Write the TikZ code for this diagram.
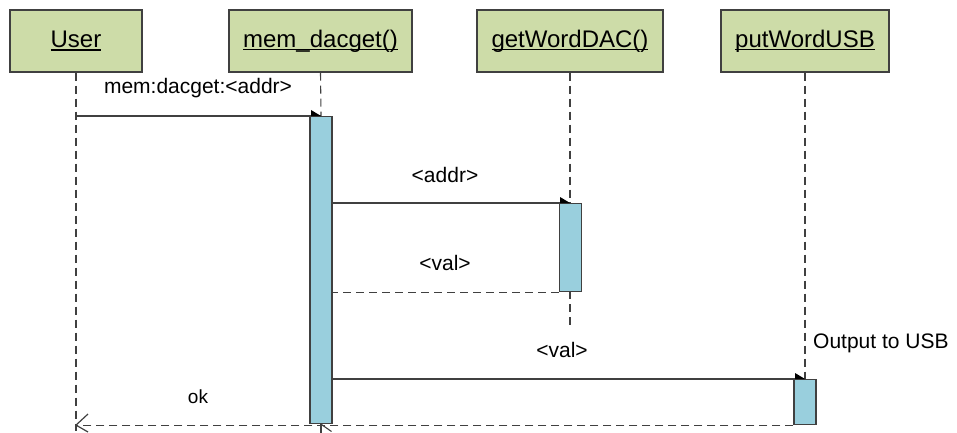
\documentclass[tikz,border=0pt]{standalone}
\usepackage{fontspec}
\setmainfont{Liberation Sans}
\definecolor{hdrfill}{RGB}{205,220,168}
\definecolor{actfill}{RGB}{153,207,221}
\definecolor{ln}{RGB}{64,64,64}
\newcommand\ulabel[1]{\setbox0\hbox{#1}\rlap{\raisebox{-2.6pt}{\rule{\wd0}{1.3pt}}}\box0}
\tikzset{
  hdr/.style={draw=ln, line width=1.2pt, fill=hdrfill, minimum height=62pt, inner sep=0pt, font=\fontsize{24}{28}\selectfont},
  act/.style={draw=ln, line width=1.1pt, fill=actfill, inner sep=0pt, minimum width=22pt},
  life/.style={draw=ln, line width=1.1pt, dash pattern=on 8pt off 5pt},
  msg/.style={draw=ln, line width=1.2pt},
  ret/.style={draw=ln, line width=1.2pt, dash pattern=on 8pt off 5pt},
  lbl/.style={anchor=base, inner sep=0pt, font=\fontsize{21}{25}\selectfont},
}
\begin{document}
\begin{tikzpicture}[x=1pt,y=-1pt]
\useasboundingbox (0,0) rectangle (957,433);
% headers
\node[hdr, minimum width=132pt] (user) at (76,41) {\ulabel{User}};
\node[hdr, minimum width=183pt] (mem) at (320.5,41) {\ulabel{mem\_dacget()}};
\node[hdr, minimum width=186pt] (gw) at (570,41) {\ulabel{getWordDAC()}};
\node[hdr, minimum width=168pt] (pw) at (805,41) {\ulabel{putWordUSB}};
% coordinates on lifelines
\coordinate (userEnd) at (76,431);
\coordinate (gwEnd) at (570,329);
\coordinate (memEnd) at (321,433);
% lifelines (drawn first)
\draw[life] (user.south) -- (userEnd);
\draw[life] (mem.south) -- (321,116);
\draw[life] (gw.south) -- (570,203);
\draw[life] (570,291) -- (gwEnd);
\draw[life] (pw.south) -- (805,379);
% activations
\node[act, minimum height=307pt, anchor=north] (a1) at (321,116) {};
\node[act, minimum height=88pt, anchor=north] (a2) at (570.5,203) {};
\node[act, minimum height=45pt, anchor=north] (a3) at (805,379) {};
\draw[ln, line width=1.1pt] (321,424) -- (memEnd);
\draw[ln, line width=1.1pt] (320,423.5) -- (331.5,431.5);
% message 1
\draw[msg] (user.south |- a1.north) -- (a1.north);
\fill[black] (311,110) -- (321,116) -- (311,116) -- cycle;
\node[lbl] (l1) at (198,94) {mem:dacget:<addr>};
% message 2
\draw[msg] (a1.east |- a2.north) -- (a2.north);
\fill[black] (560,197) -- (570,203) -- (560,203) -- cycle;
\node[lbl] (l2) at (445,182) {<addr>};
% return 1
\draw[ret] (a2.south west) -- (a1.east |- a2.south);
\node[lbl] (l3) at (445,270) {<val>};
% message 3
\draw[msg] (a1.east |- a3.north) -- (a3.north);
\fill[black] (795,373) -- (805,379) -- (795,379) -- cycle;
\node[lbl] (l4) at (562,357) {<val>};
\node[lbl, anchor=base west] (l5) at (813,348) {Output to USB};
% return 2
\draw[ret] (a3.south west) -- (user.south |- a3.south);
\draw[ln, line width=1.2pt] (88,414) -- (user.south |- a3.south) -- (88,432);
\node[lbl, font=\fontsize{19}{23}\selectfont] (l6) at (198,403) {ok};
\end{tikzpicture}
\end{document}
